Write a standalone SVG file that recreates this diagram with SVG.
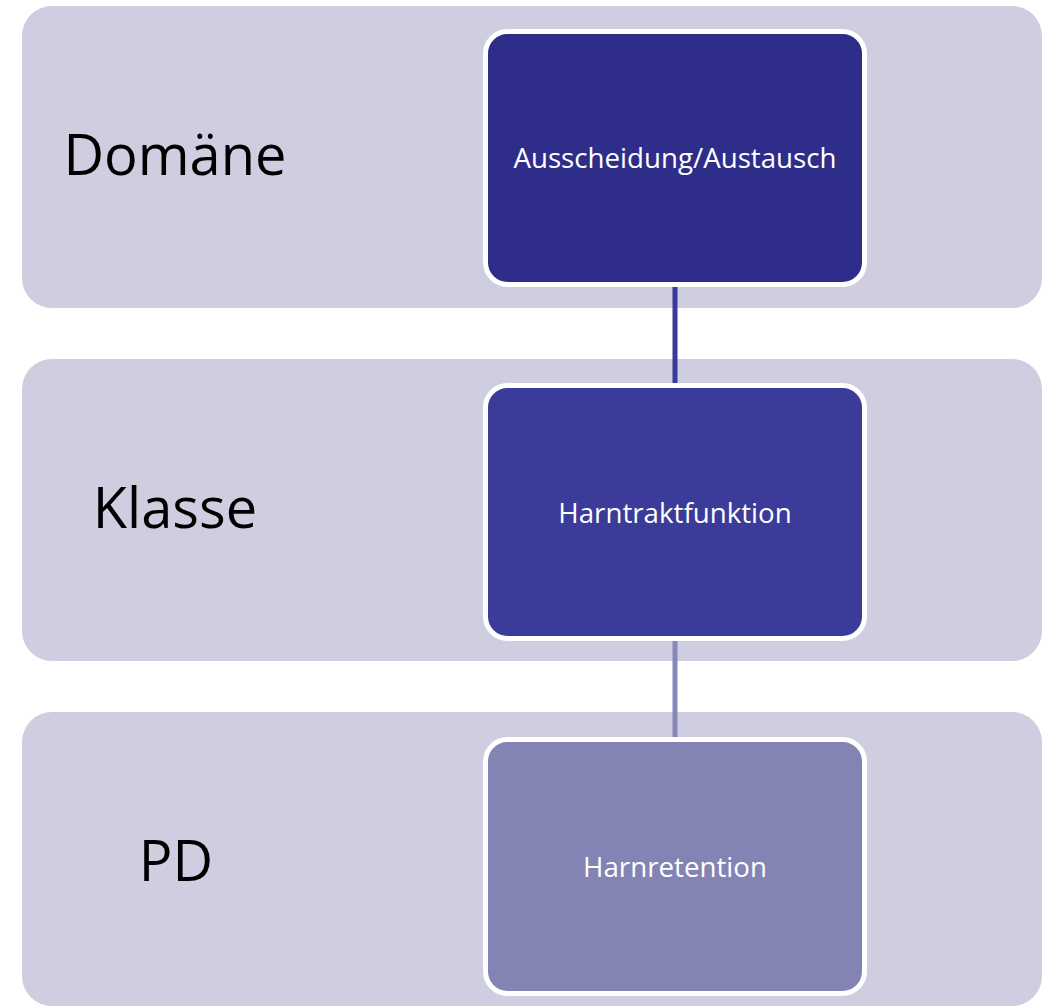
<svg xmlns="http://www.w3.org/2000/svg" width="1051" height="1007" viewBox="0 0 1051 1007">
<style>
.band{fill:#cecee0}
.node{stroke:#ffffff;stroke-width:5}
.lbl{font-family:"Open Sans","Liberation Sans",sans-serif;font-size:56px;fill:#000000;text-anchor:middle}
.ntx{font-family:"Open Sans","Liberation Sans",sans-serif;font-size:27.7px;fill:#ffffff;text-anchor:middle}
.conn{stroke-width:5;fill:none}
</style>
<rect width="1051" height="1007" fill="#ffffff"/>
<g id="bands">
<rect class="band" x="22" y="6" width="1020" height="302" rx="30"/>
<rect class="band" x="22" y="359" width="1020" height="302" rx="30"/>
<rect class="band" x="22" y="712" width="1020" height="294" rx="30"/>
<text class="lbl" x="175" y="175">Domäne</text>
<text class="lbl" x="175" y="528">Klasse</text>
<text class="lbl" x="176" y="881">PD</text>
</g>
<g id="connectors">
<line class="conn" x1="675" y1="286" x2="675" y2="384" stroke="#3a3a9a"/>
<line class="conn" x1="675" y1="640" x2="675" y2="738" stroke="#8787bb"/>
</g>
<g id="node1">
<rect class="node" x="485.5" y="31.5" width="379" height="253" rx="22" fill="#2e2e8a"/>
<text class="ntx" x="675" y="168">Ausscheidung/Austausch</text>
</g>
<g id="node2">
<rect class="node" x="485.5" y="385.5" width="379" height="253" rx="22" fill="#3b3b9a"/>
<text class="ntx" x="675" y="523">Harntraktfunktion</text>
</g>
<g id="node3">
<rect class="node" x="485.5" y="739.5" width="379" height="254" rx="22" fill="#8484b4"/>
<text class="ntx" x="675" y="877">Harnretention</text>
</g>
</svg>
